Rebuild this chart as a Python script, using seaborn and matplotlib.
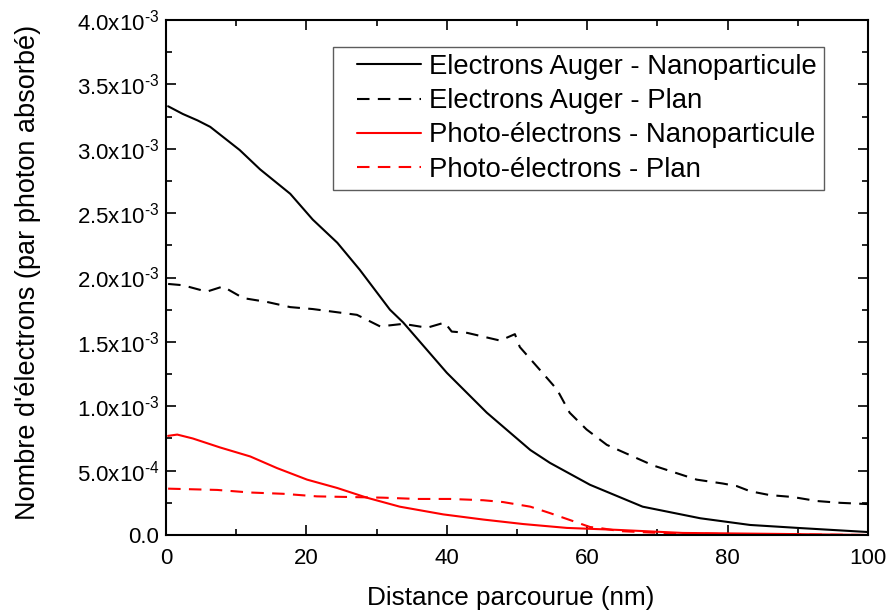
import matplotlib
matplotlib.use("Agg")
import matplotlib.pyplot as plt
import numpy as np
import pandas as pd
import seaborn as sns
from matplotlib.legend_handler import HandlerLine2D
from matplotlib.lines import Line2D
from matplotlib.ticker import FuncFormatter, MultipleLocator

# values, y in units of 1e-3 electrons per absorbed photon
SCALE = 1e-3

auger_np_x = [0.3, 2.4, 4.5, 6.3, 7.7, 10.5, 13.4, 17.7, 20.9, 24.4, 27.6, 31.9, 33.8,
              40.0, 45.7, 51.9, 54.7, 60.4, 67.9, 76.1, 83.2, 90.3, 100.0]
auger_np_y = [3.33, 3.27, 3.22, 3.17, 3.11, 2.99, 2.84, 2.65, 2.45, 2.27, 2.06, 1.75, 1.65,
              1.26, 0.95, 0.66, 0.56, 0.39, 0.22, 0.13, 0.078, 0.054, 0.023]

auger_plan_x = [0.3, 2.4, 5.8, 8.1, 11.0, 14.4, 17.7, 20.9, 24.4, 27.2, 30.5, 33.8,
                37.2, 39.7, 40.7, 42.9, 47.6, 49.7, 50.4, 53.3, 55.7, 57.5, 59.9,
                62.8, 66.1, 69.4, 72.2, 75.6, 79.3, 81.3, 83.2, 86.0, 89.3, 92.7,
                96.0, 100.0]
auger_plan_y = [1.95, 1.94, 1.89, 1.93, 1.84, 1.81, 1.77, 1.755, 1.73, 1.71, 1.62, 1.64,
                1.61, 1.65, 1.58, 1.57, 1.51, 1.56, 1.46, 1.28, 1.13, 0.95, 0.82,
                0.70, 0.62, 0.54, 0.49, 0.43, 0.40, 0.38, 0.34, 0.31, 0.295, 0.264,
                0.25, 0.24]

photo_np_x = [0.3, 1.6, 3.8, 7.7, 12.0, 15.8, 20.1, 24.4, 28.6, 33.3, 39.5, 45.2,
              50.9, 57.1, 64.2, 73.6, 87.9, 100.0]
photo_np_y = [0.77, 0.78, 0.75, 0.68, 0.61, 0.52, 0.43, 0.365, 0.29, 0.22, 0.16, 0.12,
              0.085, 0.055, 0.04, 0.016, 0.008, 0.0]

photo_plan_x = [0.3, 7.3, 12.0, 16.7, 21.5, 26.2, 30.9, 35.8, 40.5, 45.2, 48.0, 51.9,
                54.7, 57.5, 60.4, 61.8, 64.7, 70.4, 78.9, 100.0]
photo_plan_y = [0.36, 0.35, 0.33, 0.32, 0.30, 0.295, 0.29, 0.28, 0.28, 0.27, 0.256, 0.22,
                0.17, 0.117, 0.062, 0.054, 0.03, 0.016, 0.008, 0.0]

labels = [
    "Electrons Auger - Nanoparticule",
    "Electrons Auger - Plan",
    "Photo-électrons - Nanoparticule",
    "Photo-électrons - Plan",
]
colors = ["black", "black", "#ff0000", "#ff0000"]
dashed = [False, True, False, True]


def y_fmt(v, _pos):
    if abs(v) < 1e-12:
        return "0.0"
    exp = int(np.floor(np.log10(abs(v)) + 1e-9))
    mant = v / 10 ** exp
    # hyphen (U+2010) instead of the wider mathtext minus, like the original
    return f"{mant:.1f}x10$^{{\u2010{abs(exp)}}}$"


def main() -> None:
    sns.set_theme(style="white")
    plt.rcParams["font.family"] = ["Liberation Sans", "DejaVu Sans"]
    plt.rcParams["mathtext.fontset"] = "custom"
    plt.rcParams["mathtext.rm"] = "Liberation Sans"
    plt.rcParams["mathtext.it"] = "Liberation Sans"
    plt.rcParams["mathtext.bf"] = "Liberation Sans"

    frames = []
    for label, xs, ys in zip(
        labels,
        [auger_np_x, auger_plan_x, photo_np_x, photo_plan_x],
        [auger_np_y, auger_plan_y, photo_np_y, photo_plan_y],
    ):
        frames.append(pd.DataFrame({"x": xs, "y": np.array(ys) * SCALE, "serie": label}))
    df = pd.concat(frames, ignore_index=True)

    fig = plt.figure(figsize=(8.9, 6.16), dpi=100)
    ax = fig.add_axes([166 / 890, 1 - 535 / 616, 702 / 890, 515 / 616])

    sns.lineplot(
        data=df, x="x", y="y", hue="serie", style="serie",
        hue_order=labels, style_order=labels,
        palette=dict(zip(labels, colors)),
        dashes={lab: ((6, 4) if d else "") for lab, d in zip(labels, dashed)},
        linewidth=1.5, sort=False, estimator=None, ax=ax,
    )

    ax.set_xlim(0, 100)
    ax.set_ylim(0, 4e-3)
    ax.xaxis.set_major_locator(MultipleLocator(20))
    ax.xaxis.set_minor_locator(MultipleLocator(10))
    ax.yaxis.set_major_locator(MultipleLocator(5e-4))
    ax.yaxis.set_minor_locator(MultipleLocator(2.5e-4))
    ax.yaxis.set_major_formatter(FuncFormatter(y_fmt))
    ax.tick_params(which="both", direction="in", top=True, right=True, bottom=True, left=True,
                   color="black", width=1.2, labelsize=16, labelcolor="black")
    ax.tick_params(which="major", length=7)
    ax.tick_params(which="minor", length=4)
    ax.tick_params(axis="x", pad=9)
    ax.tick_params(axis="y", pad=5)
    for spine in ax.spines.values():
        spine.set_visible(True)
        spine.set_color("black")
        spine.set_linewidth(1.5)

    ax.set_xlabel("Distance parcourue (nm)", fontsize=18.8, color="black")
    ax.set_ylabel("Nombre d'électrons (par photon absorbé)", fontsize=19.5, color="black")
    ax.xaxis.set_label_coords(0.4907, -0.1)
    ax.yaxis.set_label_coords(-0.178, 0.51)

    leg = ax.legend(
        loc="upper right", bbox_to_anchor=(824 / 890, 1 - 47 / 616),
        bbox_transform=fig.transFigure, fontsize=19.8, frameon=True, fancybox=False,
        handlelength=2.95, handletextpad=0.3, labelspacing=0.3, borderpad=0.25,
        borderaxespad=0, handler_map={Line2D: HandlerLine2D(xpad=0.6)},
    )
    leg.get_frame().set_edgecolor("#333333")
    leg.get_frame().set_linewidth(1.0)
    for text in leg.get_texts():
        text.set_color("black")

    fig.savefig("out.png", dpi=100)
    plt.close(fig)


if __name__ == "__main__":
    main()
